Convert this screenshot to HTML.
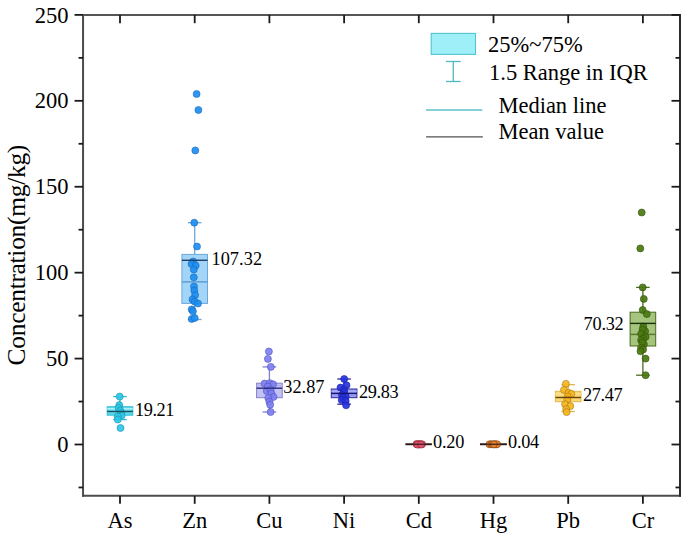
<!DOCTYPE html>
<html><head><meta charset="utf-8"><style>
html,body{margin:0;padding:0;background:#fff;width:685px;height:542px;overflow:hidden}
svg{display:block}
text{font-family:"Liberation Serif",serif;fill:#000}
.tk{font-size:22.5px}
.yl{font-size:25.5px;letter-spacing:-0.31px}
.lb{font-size:18.3px}
.lg{font-size:22.5px}
</style></head><body>
<svg width="685" height="542" viewBox="0 0 685 542">
<line x1="83.05" y1="13.9" x2="83.05" y2="496.85" stroke="#4c4c4c" stroke-width="2"/>
<line x1="82.05" y1="495.85" x2="681.0" y2="495.85" stroke="#4c4c4c" stroke-width="2"/>
<line x1="82.05" y1="14.9" x2="681.0" y2="14.9" stroke="#555" stroke-width="2"/>
<line x1="680.0" y1="13.9" x2="680.0" y2="496.85" stroke="#2c2c2c" stroke-width="2"/>
<line x1="78.55" y1="487.46" x2="83.05" y2="487.46" stroke="#1a1a1a" stroke-width="1.8"/>
<line x1="680.0" y1="487.46" x2="675.5" y2="487.46" stroke="#1a1a1a" stroke-width="1.8"/>
<line x1="74.55" y1="444.50" x2="83.05" y2="444.50" stroke="#1a1a1a" stroke-width="1.8"/>
<line x1="680.0" y1="444.50" x2="671.5" y2="444.50" stroke="#1a1a1a" stroke-width="1.8"/>
<text x="68.5" y="452.10" text-anchor="end" class="tk">0</text>
<line x1="78.55" y1="401.54" x2="83.05" y2="401.54" stroke="#1a1a1a" stroke-width="1.8"/>
<line x1="680.0" y1="401.54" x2="675.5" y2="401.54" stroke="#1a1a1a" stroke-width="1.8"/>
<line x1="74.55" y1="358.58" x2="83.05" y2="358.58" stroke="#1a1a1a" stroke-width="1.8"/>
<line x1="680.0" y1="358.58" x2="671.5" y2="358.58" stroke="#1a1a1a" stroke-width="1.8"/>
<text x="68.5" y="366.18" text-anchor="end" class="tk">50</text>
<line x1="78.55" y1="315.62" x2="83.05" y2="315.62" stroke="#1a1a1a" stroke-width="1.8"/>
<line x1="680.0" y1="315.62" x2="675.5" y2="315.62" stroke="#1a1a1a" stroke-width="1.8"/>
<line x1="74.55" y1="272.66" x2="83.05" y2="272.66" stroke="#1a1a1a" stroke-width="1.8"/>
<line x1="680.0" y1="272.66" x2="671.5" y2="272.66" stroke="#1a1a1a" stroke-width="1.8"/>
<text x="68.5" y="280.26" text-anchor="end" class="tk">100</text>
<line x1="78.55" y1="229.70" x2="83.05" y2="229.70" stroke="#1a1a1a" stroke-width="1.8"/>
<line x1="680.0" y1="229.70" x2="675.5" y2="229.70" stroke="#1a1a1a" stroke-width="1.8"/>
<line x1="74.55" y1="186.74" x2="83.05" y2="186.74" stroke="#1a1a1a" stroke-width="1.8"/>
<line x1="680.0" y1="186.74" x2="671.5" y2="186.74" stroke="#1a1a1a" stroke-width="1.8"/>
<text x="68.5" y="194.34" text-anchor="end" class="tk">150</text>
<line x1="78.55" y1="143.78" x2="83.05" y2="143.78" stroke="#1a1a1a" stroke-width="1.8"/>
<line x1="680.0" y1="143.78" x2="675.5" y2="143.78" stroke="#1a1a1a" stroke-width="1.8"/>
<line x1="74.55" y1="100.82" x2="83.05" y2="100.82" stroke="#1a1a1a" stroke-width="1.8"/>
<line x1="680.0" y1="100.82" x2="671.5" y2="100.82" stroke="#1a1a1a" stroke-width="1.8"/>
<text x="68.5" y="108.42" text-anchor="end" class="tk">200</text>
<line x1="78.55" y1="57.86" x2="83.05" y2="57.86" stroke="#1a1a1a" stroke-width="1.8"/>
<line x1="680.0" y1="57.86" x2="675.5" y2="57.86" stroke="#1a1a1a" stroke-width="1.8"/>
<line x1="74.55" y1="14.90" x2="83.05" y2="14.90" stroke="#1a1a1a" stroke-width="1.8"/>
<line x1="680.0" y1="14.90" x2="671.5" y2="14.90" stroke="#1a1a1a" stroke-width="1.8"/>
<text x="68.5" y="22.50" text-anchor="end" class="tk">250</text>
<line x1="120.00" y1="495.85" x2="120.00" y2="503.85" stroke="#1a1a1a" stroke-width="1.8"/>
<line x1="120.00" y1="14.9" x2="120.00" y2="23.200000000000003" stroke="#1a1a1a" stroke-width="1.8"/>
<text x="120.00" y="528" text-anchor="middle" class="tk">As</text>
<line x1="194.70" y1="495.85" x2="194.70" y2="503.85" stroke="#1a1a1a" stroke-width="1.8"/>
<line x1="194.70" y1="14.9" x2="194.70" y2="23.200000000000003" stroke="#1a1a1a" stroke-width="1.8"/>
<text x="194.70" y="528" text-anchor="middle" class="tk">Zn</text>
<line x1="269.40" y1="495.85" x2="269.40" y2="503.85" stroke="#1a1a1a" stroke-width="1.8"/>
<line x1="269.40" y1="14.9" x2="269.40" y2="23.200000000000003" stroke="#1a1a1a" stroke-width="1.8"/>
<text x="269.40" y="528" text-anchor="middle" class="tk">Cu</text>
<line x1="344.10" y1="495.85" x2="344.10" y2="503.85" stroke="#1a1a1a" stroke-width="1.8"/>
<line x1="344.10" y1="14.9" x2="344.10" y2="23.200000000000003" stroke="#1a1a1a" stroke-width="1.8"/>
<text x="344.10" y="528" text-anchor="middle" class="tk">Ni</text>
<line x1="418.80" y1="495.85" x2="418.80" y2="503.85" stroke="#1a1a1a" stroke-width="1.8"/>
<line x1="418.80" y1="14.9" x2="418.80" y2="23.200000000000003" stroke="#1a1a1a" stroke-width="1.8"/>
<text x="418.80" y="528" text-anchor="middle" class="tk">Cd</text>
<line x1="493.50" y1="495.85" x2="493.50" y2="503.85" stroke="#1a1a1a" stroke-width="1.8"/>
<line x1="493.50" y1="14.9" x2="493.50" y2="23.200000000000003" stroke="#1a1a1a" stroke-width="1.8"/>
<text x="493.50" y="528" text-anchor="middle" class="tk">Hg</text>
<line x1="568.20" y1="495.85" x2="568.20" y2="503.85" stroke="#1a1a1a" stroke-width="1.8"/>
<line x1="568.20" y1="14.9" x2="568.20" y2="23.200000000000003" stroke="#1a1a1a" stroke-width="1.8"/>
<text x="568.20" y="528" text-anchor="middle" class="tk">Pb</text>
<line x1="642.90" y1="495.85" x2="642.90" y2="503.85" stroke="#1a1a1a" stroke-width="1.8"/>
<line x1="642.90" y1="14.9" x2="642.90" y2="23.200000000000003" stroke="#1a1a1a" stroke-width="1.8"/>
<text x="642.90" y="528" text-anchor="middle" class="tk">Cr</text>
<text transform="translate(25,255.2) rotate(-90)" text-anchor="middle" class="yl">Concentration(mg/kg)</text>
<line x1="120.00" y1="396.6" x2="120.00" y2="406.7" stroke="#38bcd2" stroke-width="1.3"/>
<line x1="120.00" y1="415.2" x2="120.00" y2="419.6" stroke="#38bcd2" stroke-width="1.3"/>
<line x1="113.20" y1="396.6" x2="126.80" y2="396.6" stroke="#38bcd2" stroke-width="1.3"/>
<line x1="113.20" y1="419.6" x2="126.80" y2="419.6" stroke="#38bcd2" stroke-width="1.3"/>
<rect x="107.20" y="406.7" width="25.6" height="8.50" fill="#5ad9ea" stroke="#38bcd2" stroke-width="1.0"/>
<line x1="107.20" y1="408.8" x2="132.80" y2="408.8" stroke="#b0f2fa" stroke-width="1.5"/>
<circle cx="119.70" cy="396.60" r="3.5" fill="#2cc8e8" stroke="#1a90aa" stroke-width="0.6" fill-opacity="0.92"/>
<circle cx="119.30" cy="405.10" r="3.5" fill="#2cc8e8" stroke="#1a90aa" stroke-width="0.6" fill-opacity="0.92"/>
<circle cx="118.60" cy="408.00" r="3.5" fill="#2cc8e8" stroke="#1a90aa" stroke-width="0.6" fill-opacity="0.92"/>
<circle cx="120.30" cy="410.80" r="3.5" fill="#2cc8e8" stroke="#1a90aa" stroke-width="0.6" fill-opacity="0.92"/>
<circle cx="121.20" cy="413.00" r="3.5" fill="#2cc8e8" stroke="#1a90aa" stroke-width="0.6" fill-opacity="0.92"/>
<circle cx="121.70" cy="415.60" r="3.5" fill="#2cc8e8" stroke="#1a90aa" stroke-width="0.6" fill-opacity="0.92"/>
<circle cx="117.80" cy="416.40" r="3.5" fill="#2cc8e8" stroke="#1a90aa" stroke-width="0.6" fill-opacity="0.92"/>
<circle cx="117.80" cy="419.50" r="3.5" fill="#2cc8e8" stroke="#1a90aa" stroke-width="0.6" fill-opacity="0.92"/>
<circle cx="120.50" cy="428.00" r="3.5" fill="#2cc8e8" stroke="#1a90aa" stroke-width="0.6" fill-opacity="0.92"/>
<line x1="107.20" y1="411.5" x2="132.80" y2="411.5" stroke="#1a5060" stroke-width="1.4"/>
<text x="135.1" y="415.70" text-anchor="start" letter-spacing="-0.45" class="lb">19.21</text>
<line x1="194.70" y1="222.7" x2="194.70" y2="254.4" stroke="#6aa8dc" stroke-width="1.3"/>
<line x1="194.70" y1="303.4" x2="194.70" y2="319.5" stroke="#6aa8dc" stroke-width="1.3"/>
<line x1="187.90" y1="222.7" x2="201.50" y2="222.7" stroke="#6aa8dc" stroke-width="1.3"/>
<line x1="187.90" y1="319.5" x2="201.50" y2="319.5" stroke="#6aa8dc" stroke-width="1.3"/>
<rect x="181.90" y="254.4" width="25.6" height="49.00" fill="#a2d5f8" stroke="#6aa8dc" stroke-width="1.0"/>
<line x1="181.90" y1="281.9" x2="207.50" y2="281.9" stroke="#5a9fd6" stroke-width="1.5"/>
<circle cx="196.60" cy="94.00" r="3.5" fill="#1d8ef0" stroke="#1a68b8" stroke-width="0.6" fill-opacity="0.92"/>
<circle cx="198.40" cy="110.00" r="3.5" fill="#1d8ef0" stroke="#1a68b8" stroke-width="0.6" fill-opacity="0.92"/>
<circle cx="195.30" cy="150.40" r="3.5" fill="#1d8ef0" stroke="#1a68b8" stroke-width="0.6" fill-opacity="0.92"/>
<circle cx="194.30" cy="222.70" r="3.5" fill="#1d8ef0" stroke="#1a68b8" stroke-width="0.6" fill-opacity="0.92"/>
<circle cx="197.00" cy="246.50" r="3.5" fill="#1d8ef0" stroke="#1a68b8" stroke-width="0.6" fill-opacity="0.92"/>
<circle cx="193.10" cy="261.50" r="3.5" fill="#1d8ef0" stroke="#1a68b8" stroke-width="0.6" fill-opacity="0.92"/>
<circle cx="191.50" cy="264.00" r="3.5" fill="#1d8ef0" stroke="#1a68b8" stroke-width="0.6" fill-opacity="0.92"/>
<circle cx="195.70" cy="265.50" r="3.5" fill="#1d8ef0" stroke="#1a68b8" stroke-width="0.6" fill-opacity="0.92"/>
<circle cx="193.80" cy="269.50" r="3.5" fill="#1d8ef0" stroke="#1a68b8" stroke-width="0.6" fill-opacity="0.92"/>
<circle cx="193.80" cy="277.30" r="3.5" fill="#1d8ef0" stroke="#1a68b8" stroke-width="0.6" fill-opacity="0.92"/>
<circle cx="194.00" cy="286.50" r="3.5" fill="#1d8ef0" stroke="#1a68b8" stroke-width="0.6" fill-opacity="0.92"/>
<circle cx="194.30" cy="290.50" r="3.5" fill="#1d8ef0" stroke="#1a68b8" stroke-width="0.6" fill-opacity="0.92"/>
<circle cx="195.10" cy="295.00" r="3.5" fill="#1d8ef0" stroke="#1a68b8" stroke-width="0.6" fill-opacity="0.92"/>
<circle cx="192.50" cy="299.40" r="3.5" fill="#1d8ef0" stroke="#1a68b8" stroke-width="0.6" fill-opacity="0.92"/>
<circle cx="194.70" cy="301.60" r="3.5" fill="#1d8ef0" stroke="#1a68b8" stroke-width="0.6" fill-opacity="0.92"/>
<circle cx="198.00" cy="303.50" r="3.5" fill="#1d8ef0" stroke="#1a68b8" stroke-width="0.6" fill-opacity="0.92"/>
<circle cx="191.70" cy="309.40" r="3.5" fill="#1d8ef0" stroke="#1a68b8" stroke-width="0.6" fill-opacity="0.92"/>
<circle cx="192.90" cy="311.30" r="3.5" fill="#1d8ef0" stroke="#1a68b8" stroke-width="0.6" fill-opacity="0.92"/>
<circle cx="191.70" cy="319.00" r="3.5" fill="#1d8ef0" stroke="#1a68b8" stroke-width="0.6" fill-opacity="0.92"/>
<circle cx="194.70" cy="318.00" r="3.5" fill="#1d8ef0" stroke="#1a68b8" stroke-width="0.6" fill-opacity="0.92"/>
<line x1="181.90" y1="260.3" x2="207.50" y2="260.3" stroke="#1e3f66" stroke-width="1.4"/>
<text x="211.4" y="264.60" text-anchor="start" letter-spacing="0.1" class="lb">107.32</text>
<line x1="269.40" y1="366.9" x2="269.40" y2="383.2" stroke="#8080c8" stroke-width="1.3"/>
<line x1="269.40" y1="397.7" x2="269.40" y2="412.0" stroke="#8080c8" stroke-width="1.3"/>
<line x1="262.60" y1="366.9" x2="276.20" y2="366.9" stroke="#8080c8" stroke-width="1.3"/>
<line x1="262.60" y1="412.0" x2="276.20" y2="412.0" stroke="#8080c8" stroke-width="1.3"/>
<rect x="256.60" y="383.2" width="25.6" height="14.50" fill="#c2c2f6" stroke="#8080c8" stroke-width="1.0"/>
<line x1="256.60" y1="385.5" x2="282.20" y2="385.5" stroke="#b4b4f4" stroke-width="1.5"/>
<circle cx="268.90" cy="351.50" r="3.5" fill="#7f80f0" stroke="#5050c0" stroke-width="0.6" fill-opacity="0.92"/>
<circle cx="267.90" cy="358.90" r="3.5" fill="#7f80f0" stroke="#5050c0" stroke-width="0.6" fill-opacity="0.92"/>
<circle cx="270.80" cy="366.90" r="3.5" fill="#7f80f0" stroke="#5050c0" stroke-width="0.6" fill-opacity="0.92"/>
<circle cx="264.60" cy="383.60" r="3.5" fill="#7f80f0" stroke="#5050c0" stroke-width="0.6" fill-opacity="0.92"/>
<circle cx="269.80" cy="383.20" r="3.5" fill="#7f80f0" stroke="#5050c0" stroke-width="0.6" fill-opacity="0.92"/>
<circle cx="273.10" cy="384.30" r="3.5" fill="#7f80f0" stroke="#5050c0" stroke-width="0.6" fill-opacity="0.92"/>
<circle cx="267.90" cy="386.50" r="3.5" fill="#7f80f0" stroke="#5050c0" stroke-width="0.6" fill-opacity="0.92"/>
<circle cx="266.80" cy="391.00" r="3.5" fill="#7f80f0" stroke="#5050c0" stroke-width="0.6" fill-opacity="0.92"/>
<circle cx="270.60" cy="389.80" r="3.5" fill="#7f80f0" stroke="#5050c0" stroke-width="0.6" fill-opacity="0.92"/>
<circle cx="271.40" cy="393.50" r="3.5" fill="#7f80f0" stroke="#5050c0" stroke-width="0.6" fill-opacity="0.92"/>
<circle cx="273.50" cy="396.90" r="3.5" fill="#7f80f0" stroke="#5050c0" stroke-width="0.6" fill-opacity="0.92"/>
<circle cx="268.30" cy="398.00" r="3.5" fill="#7f80f0" stroke="#5050c0" stroke-width="0.6" fill-opacity="0.92"/>
<circle cx="269.40" cy="401.70" r="3.5" fill="#7f80f0" stroke="#5050c0" stroke-width="0.6" fill-opacity="0.92"/>
<circle cx="270.20" cy="404.70" r="3.5" fill="#7f80f0" stroke="#5050c0" stroke-width="0.6" fill-opacity="0.92"/>
<circle cx="270.60" cy="412.00" r="3.5" fill="#7f80f0" stroke="#5050c0" stroke-width="0.6" fill-opacity="0.92"/>
<line x1="256.60" y1="388.2" x2="282.20" y2="388.2" stroke="#2a2a78" stroke-width="1.4"/>
<text x="283.3" y="392.70" text-anchor="start" letter-spacing="0" class="lb">32.87</text>
<line x1="344.10" y1="379.0" x2="344.10" y2="389.0" stroke="#2a2a98" stroke-width="1.3"/>
<line x1="344.10" y1="397.7" x2="344.10" y2="404.2" stroke="#2a2a98" stroke-width="1.3"/>
<line x1="337.30" y1="379.0" x2="350.90" y2="379.0" stroke="#2a2a98" stroke-width="1.3"/>
<line x1="337.30" y1="404.2" x2="350.90" y2="404.2" stroke="#2a2a98" stroke-width="1.3"/>
<rect x="331.30" y="389.0" width="25.6" height="8.70" fill="#9a9cf4" stroke="#2a2a98" stroke-width="1.0"/>
<line x1="331.30" y1="391.3" x2="356.90" y2="391.3" stroke="#a8aaf8" stroke-width="1.5"/>
<circle cx="344.20" cy="379.00" r="3.5" fill="#2832e0" stroke="#1a20a0" stroke-width="0.6" fill-opacity="0.92"/>
<circle cx="340.50" cy="387.60" r="3.5" fill="#2832e0" stroke="#1a20a0" stroke-width="0.6" fill-opacity="0.92"/>
<circle cx="346.50" cy="385.30" r="3.5" fill="#2832e0" stroke="#1a20a0" stroke-width="0.6" fill-opacity="0.92"/>
<circle cx="343.90" cy="389.80" r="3.5" fill="#2832e0" stroke="#1a20a0" stroke-width="0.6" fill-opacity="0.92"/>
<circle cx="344.10" cy="392.00" r="3.5" fill="#2832e0" stroke="#1a20a0" stroke-width="0.6" fill-opacity="0.92"/>
<circle cx="342.00" cy="395.00" r="3.5" fill="#2832e0" stroke="#1a20a0" stroke-width="0.6" fill-opacity="0.92"/>
<circle cx="345.70" cy="396.40" r="3.5" fill="#2832e0" stroke="#1a20a0" stroke-width="0.6" fill-opacity="0.92"/>
<circle cx="343.10" cy="398.00" r="3.5" fill="#2832e0" stroke="#1a20a0" stroke-width="0.6" fill-opacity="0.92"/>
<circle cx="341.70" cy="400.10" r="3.5" fill="#2832e0" stroke="#1a20a0" stroke-width="0.6" fill-opacity="0.92"/>
<circle cx="345.70" cy="400.90" r="3.5" fill="#2832e0" stroke="#1a20a0" stroke-width="0.6" fill-opacity="0.92"/>
<circle cx="346.10" cy="405.30" r="3.5" fill="#2832e0" stroke="#1a20a0" stroke-width="0.6" fill-opacity="0.92"/>
<line x1="331.30" y1="393.4" x2="356.90" y2="393.4" stroke="#14146e" stroke-width="1.4"/>
<text x="359.0" y="398.20" text-anchor="start" letter-spacing="-0.35" class="lb">29.83</text>
<line x1="405.5" y1="444.3" x2="431.8" y2="444.3" stroke="#2a1a1a" stroke-width="1.8"/>
<circle cx="416.50" cy="444.00" r="3.5" fill="#e65570" stroke="#8a2030" stroke-width="0.6" fill-opacity="0.92"/>
<circle cx="418.20" cy="444.30" r="3.5" fill="#e65570" stroke="#8a2030" stroke-width="0.6" fill-opacity="0.92"/>
<circle cx="420.00" cy="444.10" r="3.5" fill="#e65570" stroke="#8a2030" stroke-width="0.6" fill-opacity="0.92"/>
<circle cx="422.10" cy="444.20" r="3.5" fill="#e65570" stroke="#8a2030" stroke-width="0.6" fill-opacity="0.92"/>
<circle cx="419.20" cy="444.50" r="3.5" fill="#e65570" stroke="#8a2030" stroke-width="0.6" fill-opacity="0.92"/>
<circle cx="417.30" cy="444.60" r="3.5" fill="#e65570" stroke="#8a2030" stroke-width="0.6" fill-opacity="0.92"/>
<circle cx="421.10" cy="444.60" r="3.5" fill="#e65570" stroke="#8a2030" stroke-width="0.6" fill-opacity="0.92"/>
<line x1="405.5" y1="444.3" x2="431.8" y2="444.3" stroke="#2a1a1a" stroke-width="1.5" opacity="0.8"/>
<text x="433.0" y="447.80" text-anchor="start" letter-spacing="-0.2" class="lb">0.20</text>
<line x1="480.0" y1="444.3" x2="506.8" y2="444.3" stroke="#2a1a1a" stroke-width="1.8"/>
<circle cx="489.50" cy="444.30" r="3.5" fill="#ea842e" stroke="#7a3a10" stroke-width="0.6" fill-opacity="0.92"/>
<circle cx="491.30" cy="444.20" r="3.5" fill="#ea842e" stroke="#7a3a10" stroke-width="0.6" fill-opacity="0.92"/>
<circle cx="493.00" cy="444.40" r="3.5" fill="#ea842e" stroke="#7a3a10" stroke-width="0.6" fill-opacity="0.92"/>
<circle cx="494.70" cy="444.20" r="3.5" fill="#ea842e" stroke="#7a3a10" stroke-width="0.6" fill-opacity="0.92"/>
<circle cx="495.90" cy="444.40" r="3.5" fill="#ea842e" stroke="#7a3a10" stroke-width="0.6" fill-opacity="0.92"/>
<circle cx="497.10" cy="444.30" r="3.5" fill="#ea842e" stroke="#7a3a10" stroke-width="0.6" fill-opacity="0.92"/>
<circle cx="493.80" cy="444.30" r="3.5" fill="#ea842e" stroke="#7a3a10" stroke-width="0.6" fill-opacity="0.92"/>
<line x1="480.0" y1="444.3" x2="506.8" y2="444.3" stroke="#2a1a1a" stroke-width="1.5" opacity="0.8"/>
<text x="508.1" y="447.80" text-anchor="start" letter-spacing="-0.3" class="lb">0.04</text>
<line x1="568.20" y1="384.7" x2="568.20" y2="391.3" stroke="#e0b850" stroke-width="1.3"/>
<line x1="568.20" y1="401.7" x2="568.20" y2="411.5" stroke="#e0b850" stroke-width="1.3"/>
<line x1="561.40" y1="384.7" x2="575.00" y2="384.7" stroke="#e0b850" stroke-width="1.3"/>
<line x1="561.40" y1="411.5" x2="575.00" y2="411.5" stroke="#e0b850" stroke-width="1.3"/>
<rect x="555.40" y="391.3" width="25.6" height="10.40" fill="#fbd872" stroke="#e0b850" stroke-width="1.0"/>
<line x1="555.40" y1="393.8" x2="581.00" y2="393.8" stroke="#fde090" stroke-width="1.5"/>
<circle cx="565.90" cy="383.90" r="3.5" fill="#f6b520" stroke="#a87810" stroke-width="0.6" fill-opacity="0.92"/>
<circle cx="564.00" cy="389.90" r="3.5" fill="#f6b520" stroke="#a87810" stroke-width="0.6" fill-opacity="0.92"/>
<circle cx="568.50" cy="392.80" r="3.5" fill="#f6b520" stroke="#a87810" stroke-width="0.6" fill-opacity="0.92"/>
<circle cx="571.40" cy="393.90" r="3.5" fill="#f6b520" stroke="#a87810" stroke-width="0.6" fill-opacity="0.92"/>
<circle cx="567.70" cy="396.50" r="3.5" fill="#f6b520" stroke="#a87810" stroke-width="0.6" fill-opacity="0.92"/>
<circle cx="567.30" cy="399.50" r="3.5" fill="#f6b520" stroke="#a87810" stroke-width="0.6" fill-opacity="0.92"/>
<circle cx="565.10" cy="404.30" r="3.5" fill="#f6b520" stroke="#a87810" stroke-width="0.6" fill-opacity="0.92"/>
<circle cx="570.30" cy="406.10" r="3.5" fill="#f6b520" stroke="#a87810" stroke-width="0.6" fill-opacity="0.92"/>
<circle cx="566.20" cy="409.10" r="3.5" fill="#f6b520" stroke="#a87810" stroke-width="0.6" fill-opacity="0.92"/>
<circle cx="566.60" cy="412.10" r="3.5" fill="#f6b520" stroke="#a87810" stroke-width="0.6" fill-opacity="0.92"/>
<line x1="555.40" y1="397.5" x2="581.00" y2="397.5" stroke="#6a4010" stroke-width="1.4"/>
<text x="583.0" y="401.40" text-anchor="start" letter-spacing="-0.375" class="lb">27.47</text>
<line x1="642.90" y1="287.4" x2="642.90" y2="312.2" stroke="#4a6a20" stroke-width="1.3"/>
<line x1="642.90" y1="346.0" x2="642.90" y2="375.2" stroke="#4a6a20" stroke-width="1.3"/>
<line x1="636.10" y1="287.4" x2="649.70" y2="287.4" stroke="#4a6a20" stroke-width="1.3"/>
<line x1="636.10" y1="375.2" x2="649.70" y2="375.2" stroke="#4a6a20" stroke-width="1.3"/>
<rect x="630.10" y="312.2" width="25.6" height="33.80" fill="#a5c47e" stroke="#4a6a20" stroke-width="1.0"/>
<line x1="630.10" y1="334.4" x2="655.70" y2="334.4" stroke="#5a7a30" stroke-width="1.5"/>
<circle cx="641.70" cy="212.50" r="3.5" fill="#4a7810" stroke="#34520a" stroke-width="0.6" fill-opacity="0.92"/>
<circle cx="640.30" cy="248.40" r="3.5" fill="#4a7810" stroke="#34520a" stroke-width="0.6" fill-opacity="0.92"/>
<circle cx="642.70" cy="287.40" r="3.5" fill="#4a7810" stroke="#34520a" stroke-width="0.6" fill-opacity="0.92"/>
<circle cx="643.80" cy="298.90" r="3.5" fill="#4a7810" stroke="#34520a" stroke-width="0.6" fill-opacity="0.92"/>
<circle cx="642.70" cy="310.00" r="3.5" fill="#4a7810" stroke="#34520a" stroke-width="0.6" fill-opacity="0.92"/>
<circle cx="646.80" cy="314.10" r="3.5" fill="#4a7810" stroke="#34520a" stroke-width="0.6" fill-opacity="0.92"/>
<circle cx="643.30" cy="326.60" r="3.5" fill="#4a7810" stroke="#34520a" stroke-width="0.6" fill-opacity="0.92"/>
<circle cx="645.10" cy="331.20" r="3.5" fill="#4a7810" stroke="#34520a" stroke-width="0.6" fill-opacity="0.92"/>
<circle cx="642.60" cy="329.50" r="3.5" fill="#4a7810" stroke="#34520a" stroke-width="0.6" fill-opacity="0.92"/>
<circle cx="641.10" cy="334.00" r="3.5" fill="#4a7810" stroke="#34520a" stroke-width="0.6" fill-opacity="0.92"/>
<circle cx="645.60" cy="336.90" r="3.5" fill="#4a7810" stroke="#34520a" stroke-width="0.6" fill-opacity="0.92"/>
<circle cx="643.20" cy="338.50" r="3.5" fill="#4a7810" stroke="#34520a" stroke-width="0.6" fill-opacity="0.92"/>
<circle cx="641.10" cy="340.30" r="3.5" fill="#4a7810" stroke="#34520a" stroke-width="0.6" fill-opacity="0.92"/>
<circle cx="643.90" cy="344.30" r="3.5" fill="#4a7810" stroke="#34520a" stroke-width="0.6" fill-opacity="0.92"/>
<circle cx="642.30" cy="342.50" r="3.5" fill="#4a7810" stroke="#34520a" stroke-width="0.6" fill-opacity="0.92"/>
<circle cx="641.10" cy="347.70" r="3.5" fill="#4a7810" stroke="#34520a" stroke-width="0.6" fill-opacity="0.92"/>
<circle cx="643.10" cy="349.50" r="3.5" fill="#4a7810" stroke="#34520a" stroke-width="0.6" fill-opacity="0.92"/>
<circle cx="640.50" cy="351.20" r="3.5" fill="#4a7810" stroke="#34520a" stroke-width="0.6" fill-opacity="0.92"/>
<circle cx="645.60" cy="358.60" r="3.5" fill="#4a7810" stroke="#34520a" stroke-width="0.6" fill-opacity="0.92"/>
<circle cx="645.60" cy="375.20" r="3.5" fill="#4a7810" stroke="#34520a" stroke-width="0.6" fill-opacity="0.92"/>
<line x1="630.10" y1="323.4" x2="655.70" y2="323.4" stroke="#1a3008" stroke-width="1.4"/>
<text x="583.6" y="329.90" text-anchor="start" letter-spacing="-0.25" class="lb">70.32</text>
<rect x="431.2" y="33.4" width="44.3" height="21" fill="#9eeff8" stroke="#52c4ce" stroke-width="1.1"/>
<line x1="453.3" y1="61.5" x2="453.3" y2="81.5" stroke="#50b8c2" stroke-width="1.3"/>
<line x1="446.0" y1="61.5" x2="460.6" y2="61.5" stroke="#50b8c2" stroke-width="1.3"/>
<line x1="446.0" y1="81.5" x2="460.6" y2="81.5" stroke="#50b8c2" stroke-width="1.3"/>
<line x1="426.1" y1="110" x2="482.3" y2="110" stroke="#5ec2ca" stroke-width="1.3"/>
<line x1="426.1" y1="136.9" x2="482.8" y2="136.9" stroke="#505050" stroke-width="1.4"/>
<text x="488" y="51.5" class="lg">25%~75%</text>
<text x="489" y="80.3" class="lg">1.5 Range in IQR</text>
<text x="498.4" y="112.8" class="lg">Median line</text>
<text x="498.4" y="139.3" class="lg">Mean value</text>
</svg>
</body></html>
